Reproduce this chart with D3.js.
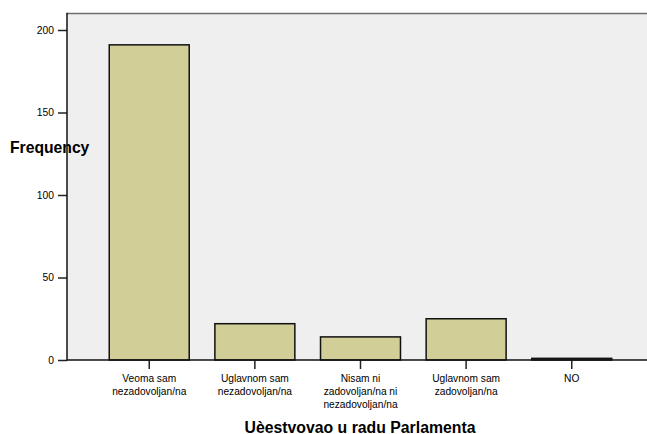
<!DOCTYPE html>
<html>
<head>
<meta charset="utf-8">
<script src="https://cdn.jsdelivr.net/npm/d3@7"></script>
<style>
  html, body { margin: 0; padding: 0; background: #ffffff; }
  svg { display: block; }
  text { font-family: Arial, "Liberation Sans", sans-serif; fill: #000; }
</style>
</head>
<body>
<svg id="chart" width="647" height="434"></svg>
<script>
const categories = [
  ["Veoma sam", "nezadovoljan/na"],
  ["Uglavnom sam", "nezadovoljan/na"],
  ["Nisam ni", "zadovoljan/na ni", "nezadovoljan/na"],
  ["Uglavnom sam", "zadovoljan/na"],
  ["NO"]
];
const frequencies = [191, 22, 14, 25, 1];
const yTicks = [0, 50, 100, 150, 200];
const yTitle = "Frequency";
const xTitle = "Uèestvovao u radu Parlamenta";

const svg = d3.select("#chart");
const mLeft = 67, mTop = 13.5, mBottom = 360, mRight = 654;

const keys = categories.map((c, i) => i);
const x = d3.scaleBand().domain(keys).range([mLeft, mRight]).paddingInner(0.243).paddingOuter(0.4);
const y = d3.scaleLinear().domain([0, 210]).range([mBottom, mTop]);

// plot background
svg.append("rect")
  .attr("x", mLeft).attr("y", mTop)
  .attr("width", mRight - mLeft).attr("height", mBottom - mTop)
  .attr("fill", "#efefef");

// top border
svg.append("line")
  .attr("x1", mLeft).attr("x2", mRight)
  .attr("y1", mTop).attr("y2", mTop)
  .attr("stroke", "#6e6e6e").attr("stroke-width", 1.5);

// y title (drawn under the axis line)
svg.append("text")
  .attr("x", 10).attr("y", 153)
  .attr("font-size", "15.7px").attr("font-weight", "bold")
  .text(yTitle);

// bars
svg.append("g").selectAll("rect")
  .data(frequencies)
  .join("rect")
  .attr("x", (d, i) => x(i))
  .attr("y", d => y(d))
  .attr("width", x.bandwidth())
  .attr("height", d => mBottom - y(d))
  .attr("fill", "#d2ce98")
  .attr("stroke", "#111")
  .attr("stroke-width", 1.5);

// y axis
const yAxis = svg.append("g")
  .attr("transform", `translate(${mLeft},0)`)
  .call(d3.axisLeft(y).tickValues(yTicks).tickSize(9).tickPadding(4));
yAxis.select(".domain").remove();
yAxis.selectAll(".tick line").attr("stroke", "#222").attr("stroke-width", 1.5);
yAxis.selectAll(".tick text").attr("font-size", "10.3px").attr("font-family", "Arial, 'Liberation Sans', sans-serif");
svg.append("line")
  .attr("x1", mLeft).attr("x2", mLeft)
  .attr("y1", mTop - 0.75).attr("y2", mBottom + 0.75)
  .attr("stroke", "#111").attr("stroke-width", 1.5);

// x axis
const xAxis = svg.append("g")
  .attr("transform", `translate(0,${mBottom})`)
  .call(d3.axisBottom(x).tickSize(9).tickFormat(""));
xAxis.select(".domain").remove();
xAxis.selectAll(".tick line").attr("stroke", "#222").attr("stroke-width", 1.5);
svg.append("line")
  .attr("x1", mLeft).attr("x2", mRight)
  .attr("y1", mBottom).attr("y2", mBottom)
  .attr("stroke", "#111").attr("stroke-width", 1.5);

// category labels
const lab = svg.append("g").selectAll("text")
  .data(categories)
  .join("text")
  .attr("text-anchor", "middle")
  .attr("font-size", "10.2px")
  .attr("x", (d, i) => x(i) + x.bandwidth() / 2)
  .attr("y", 381.5);
lab.selectAll("tspan")
  .data(d => d)
  .join("tspan")
  .attr("x", function() { return d3.select(this.parentNode).attr("x"); })
  .attr("dy", (d, i) => i === 0 ? 0 : 13)
  .text(d => d);

// x title
svg.append("text")
  .attr("x", 360).attr("y", 432.5)
  .attr("text-anchor", "middle")
  .attr("font-size", "15.8px").attr("font-weight", "bold")
  .text(xTitle);
</script>
</body>
</html>
